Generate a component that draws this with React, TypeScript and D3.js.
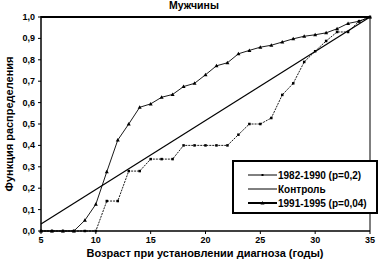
import React from "react";
import * as d3 from "d3";

const ages = [5,6,7,8,9,10,11,12,13,14,15,16,17,18,19,20,21,22,23,24,25,26,27,28,29,30,31,32,33,34,35];
const series1982 = [0,0,0,0,0,0,0.14,0.14,0.28,0.28,0.336,0.336,0.336,0.4,0.4,0.4,0.4,0.4,0.45,0.5,0.5,0.528,0.636,0.69,0.79,0.84,0.888,0.93,0.93,0.98,1.0];
const series1991 = [0,0,0,0,0.05,0.125,0.277,0.425,0.5,0.578,0.594,0.625,0.638,0.675,0.69,0.73,0.772,0.786,0.828,0.844,0.859,0.868,0.883,0.898,0.91,0.917,0.926,0.945,0.97,0.98,1.0];
const controlAges = [5,35];
const controlValues = [0.033,1.0];
const xTicks = [5,10,15,20,25,30,35];
const yTicks = [0,0.1,0.2,0.3,0.4,0.5,0.6,0.7,0.8,0.9,1.0];
const legendLabels = ["1982-1990 (p=0,2)", "Контроль", "1991-1995 (p=0,04)"];
const title = "Мужчины";
const xTitle = "Возраст при установлении диагноза (годы)";
const yTitle = "Функция распределения";

export default function App() {
  const W = 382, H = 264;
  const x = d3.scaleLinear().domain([5, 35]).range([41, 370]);
  const y = d3.scaleLinear().domain([0, 1]).range([231, 17]);
  const line = d3.line<[number, number]>().x(d => x(d[0])).y(d => y(d[1]));
  const p82 = ages.map((a, i) => [a, series1982[i]] as [number, number]);
  const p91 = ages.map((a, i) => [a, series1991[i]] as [number, number]);
  const pc = controlAges.map((a, i) => [a, controlValues[i]] as [number, number]);
  const font = "Liberation Sans, Arial, sans-serif";
  const tri = (cx: number, cy: number) => `M${cx},${cy - 2} L${cx + 2},${cy + 1.5} L${cx - 2},${cy + 1.5} Z`;
  const fmt = (v: number) => v.toFixed(1).replace(".", ",");
  const lx0 = 248, lx1 = 277;
  const ly = [175, 189, 203];
  return (
    <svg width={W} height={H} style={{ position: "absolute", left: 0, top: 0, background: "#fff" }}>
      <rect x={0} y={0} width={W} height={H} fill="#fff" />
      <text x={194} y={9} textAnchor="middle" fontFamily={font} fontWeight="bold" fontSize={10.5}>{title}</text>
      {/* axes frame */}
      <line x1={x(5)} x2={x(35)} y1={y(1)} y2={y(1)} stroke="#000" strokeWidth={2} />
      <line x1={x(35)} x2={x(35)} y1={y(1)} y2={y(0)} stroke="#000" strokeWidth={1} />
      <line x1={x(5)} x2={x(5)} y1={y(1) - 1} y2={y(0)} stroke="#000" strokeWidth={1.5} />
      <line x1={x(5)} x2={x(35)} y1={y(0)} y2={y(0)} stroke="#000" strokeWidth={1.5} />
      {yTicks.map(t => (
        <g key={"y" + t}>
          <line x1={x(5) - 3} x2={x(5)} y1={y(t)} y2={y(t)} stroke="#000" />
          <text x={35} y={y(t) + 3} textAnchor="end" fontFamily={font} fontWeight="bold" fontSize={9}>{fmt(t)}</text>
        </g>
      ))}
      {xTicks.map(t => (
        <g key={"x" + t}>
          <line x1={x(t)} x2={x(t)} y1={y(0)} y2={y(0) + 3} stroke="#000" />
          <text x={x(t)} y={243} textAnchor="middle" fontFamily={font} fontWeight="bold" fontSize={9}>{t}</text>
        </g>
      ))}
      <text x={205} y={257} textAnchor="middle" fontFamily={font} fontWeight="bold" fontSize={11}>{xTitle}</text>
      <text transform={`translate(13,124) rotate(-90)`} textAnchor="middle" fontFamily={font} fontWeight="bold" fontSize={11}>{yTitle}</text>
      {/* control */}
      <path d={line(pc) || ""} fill="none" stroke="#000" strokeWidth={1.2} />
      {/* 1982-1990 */}
      <path d={line(p82) || ""} fill="none" stroke="#000" strokeWidth={0.9} strokeDasharray="2,1" />
      {p82.map((p, i) => <rect key={"a" + i} x={x(p[0]) - 1.25} y={y(p[1]) - 1.25} width={2.5} height={2.5} fill="#000" />)}
      {/* 1991-1995 */}
      <path d={line(p91) || ""} fill="none" stroke="#000" strokeWidth={0.9} />
      {p91.map((p, i) => <path key={"b" + i} d={tri(x(p[0]), y(p[1]))} fill="#000" />)}
      {/* legend */}
      <rect x={233} y={161} width={144} height={52} fill="#fff" stroke="#000" strokeWidth={2} />
      <line x1={lx0} x2={lx1} y1={ly[0]} y2={ly[0]} stroke="#000" strokeWidth={1} />
      <rect x={(lx0 + lx1) / 2 - 1} y={ly[0] - 1} width={2} height={2} fill="#000" />
      <line x1={lx0} x2={lx1} y1={ly[1]} y2={ly[1]} stroke="#000" strokeWidth={1} />
      <line x1={lx0} x2={lx1} y1={ly[2]} y2={ly[2]} stroke="#000" strokeWidth={2} />
      <path d={tri((lx0 + lx1) / 2, ly[2])} fill="#000" />
      {legendLabels.map((l, i) => (
        <text key={l} x={lx1 + 1} y={ly[i] + 3.5} fontFamily={font} fontWeight="bold" fontSize={10}>{l}</text>
      ))}
    </svg>
  );
}
